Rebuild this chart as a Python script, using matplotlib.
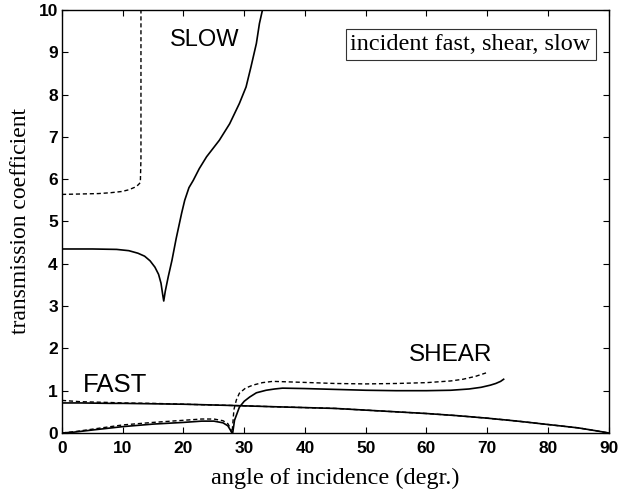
import matplotlib.pyplot as plt
import numpy as np

# transmission coefficients vs. angle of incidence (degrees)
slow_x = [0, 5, 9, 11, 12.5, 13.6, 14.5, 15.3, 15.9, 16.3, 16.6, 16.75, 17.0, 17.5,
          18.1, 18.8, 19.7, 20.2, 20.9, 21.6, 22.6, 23.8, 25.9, 27.6, 29.2, 30.3,
          31.1, 32.0, 32.5, 33.0]
slow_solid = [4.35, 4.35, 4.34, 4.31, 4.25, 4.18, 4.07, 3.92, 3.75, 3.54, 3.25, 3.12,
              3.35, 3.7, 4.08, 4.6, 5.2, 5.5, 5.8, 5.97, 6.25, 6.53, 6.92, 7.31, 7.79,
              8.18, 8.65, 9.21, 9.68, 10.0]

slow_dash_x = [0, 3, 6, 8, 9.9, 11, 12, 12.5, 12.9, 13.0, 13.0]
slow_dash = [5.64, 5.65, 5.66, 5.68, 5.71, 5.75, 5.81, 5.86, 5.92, 6.5, 10.0]

fast_x = [0, 3, 8, 10, 15, 20, 28, 35, 40, 45, 50, 55, 60, 65, 70, 75, 80, 85, 88, 90]
fast_solid = [0.71, 0.71, 0.70, 0.70, 0.69, 0.68, 0.65, 0.62, 0.60, 0.58, 0.54, 0.50,
              0.46, 0.41, 0.35, 0.28, 0.20, 0.12, 0.05, 0.0]
fast_dash = [0.77, 0.74, 0.72, 0.71, 0.70, 0.68, 0.65, 0.62, 0.60, 0.58, 0.54, 0.50,
             0.46, 0.41, 0.35, 0.28, 0.20, 0.12, 0.05, 0.0]

shear_x = [0, 2, 5, 10, 15, 20, 23, 25, 26.5, 27.3, 27.8, 28.0, 28.1, 28.4, 29.2, 30,
           30.9, 32, 33.6, 35, 36.3, 40, 45, 50, 55, 60, 64, 67, 69, 70.5, 71.4, 72.2, 72.7]
shear_solid = [0, 0.02, 0.07, 0.15, 0.21, 0.25, 0.28, 0.28, 0.24, 0.17, 0.05, 0.0, 0.0,
               0.3, 0.61, 0.75, 0.85, 0.95, 1.01, 1.04, 1.06, 1.05, 1.03, 1.01, 1.0,
               1.0, 1.01, 1.04, 1.08, 1.13, 1.17, 1.22, 1.27]

shear_dash_x = [0, 2, 5, 10, 15, 20, 23, 25, 26.5, 27.3, 27.7, 27.9, 28.0, 28.3, 28.7,
                29.2, 30.2, 31.4, 33, 34.7, 39, 45, 50, 55, 60, 64, 66, 68.1, 69.8]
shear_dash = [0, 0.03, 0.09, 0.19, 0.25, 0.30, 0.33, 0.33, 0.29, 0.22, 0.12, 0.02, 0.0,
              0.55, 0.78, 0.94, 1.06, 1.13, 1.19, 1.22, 1.20, 1.17, 1.16, 1.17, 1.19,
              1.23, 1.27, 1.34, 1.42]

xticks = np.arange(0, 91, 10)
yticks = np.arange(0, 11, 1)

fig = plt.figure(figsize=(6.18, 4.95), dpi=100)
ax = fig.add_axes([0.1003, 0.1253, 0.8847, 0.8545])

solid = dict(color='black', lw=1.2, ls='-')
dashed = dict(color='black', lw=1.0, ls=(0, (3, 2)))

ax.plot(slow_x, slow_solid, **solid)
ax.plot(slow_dash_x, slow_dash, **dashed)
ax.plot(fast_x, fast_solid, **solid)
ax.plot(fast_x, fast_dash, **dashed)
ax.plot(shear_x, shear_solid, **solid)
ax.plot(shear_dash_x, shear_dash, **dashed)

ax.set_xlim(0, 90)
ax.set_ylim(0, 10)
ax.set_xticks(xticks)
ax.set_yticks(yticks)
ax.tick_params(direction='in', top=True, right=True, length=4, width=0.8,
               labelsize=12.5)
ax.tick_params(axis='x', pad=6)
ax.tick_params(axis='y', pad=3)
for lab in ax.get_xticklabels() + ax.get_yticklabels():
    lab.set_fontfamily('Liberation Sans')
    lab.set_fontweight('bold')
for sp in ax.spines.values():
    sp.set_linewidth(1.0)

serif = 'Liberation Serif'
ax.set_xlabel('angle of incidence (degr.)', fontsize=17.5, family=serif, labelpad=8)
ax.set_ylabel('transmission coefficient', fontsize=17, family=serif, labelpad=5)

sans = 'Liberation Sans'
ax.text(23.5, 9.28, 'SLOW', fontsize=17, family=sans, ha='center', va='center')
ax.text(3.4, 1.13, 'FAST', fontsize=18.5, family=sans, ha='left', va='center')
ax.text(64.0, 1.84, 'SHEAR', fontsize=17.5, family=sans, ha='center', va='center')

ax.text(0.967, 0.944, 'incident fast, shear, slow', transform=ax.transAxes,
        fontsize=17.5, family=serif, ha='right', va='top',
        bbox=dict(boxstyle='square,pad=0.2', fc='white', ec='#333333', lw=0.8))

fig.savefig('out.png', dpi=100)
